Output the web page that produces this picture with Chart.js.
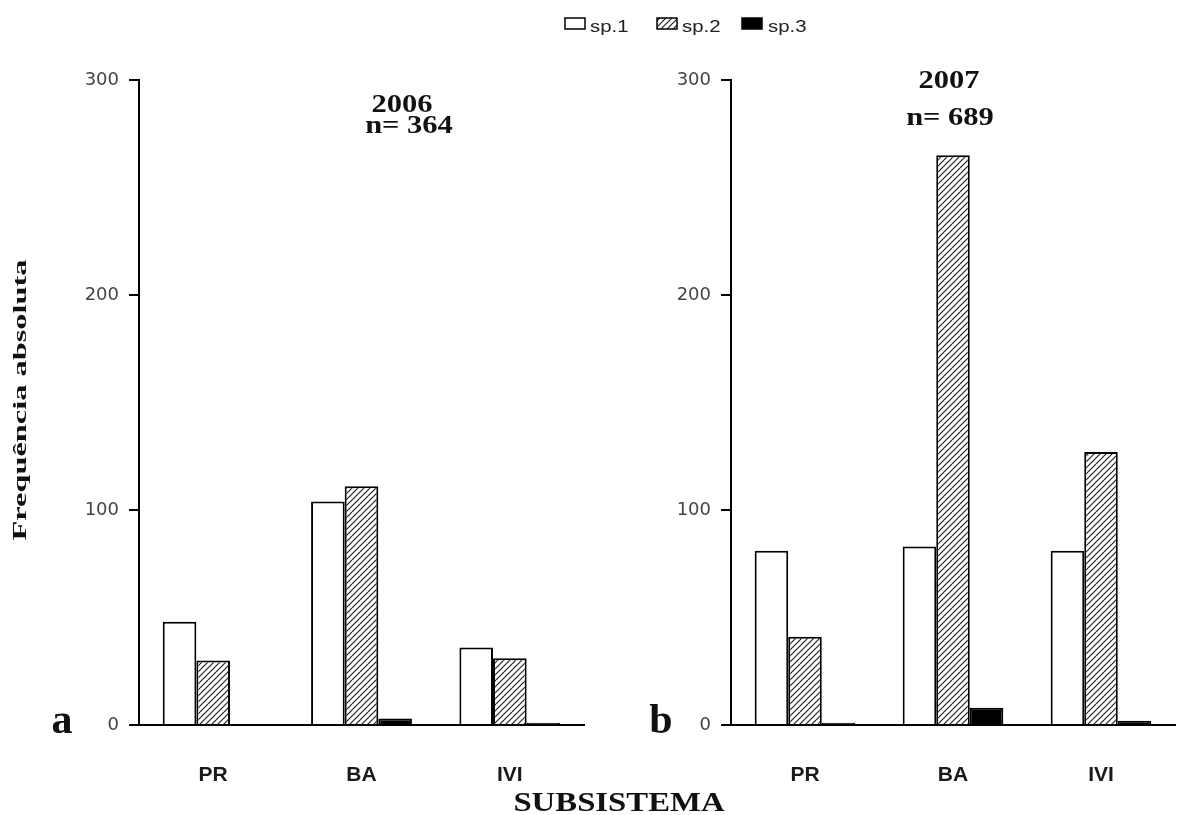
<!DOCTYPE html>
<html lang="pt">
<head>
<meta charset="utf-8">
<title>Frequência absoluta por subsistema</title>
<script src="https://cdn.jsdelivr.net/npm/chart.js@4.4.1/dist/chart.umd.min.js"></script>
<style>
  html, body { margin: 0; padding: 0; background: #fff; }
  #figura { position: relative; width: 1192px; height: 815px; }
  #figura canvas { position: absolute; left: 0; top: 0; }
</style>
</head>
<body>
<div id="figura">
  <canvas id="graf2006" width="1192" height="815"></canvas>
  <canvas id="graf2007" width="1192" height="815"></canvas>
</div>
<script>
// Subsistemas e frequência absoluta de cada espécie
const subsistemas = ['PR', 'BA', 'IVI'];
const especies = ['sp.1', 'sp.2', 'sp.3'];

const sp1_2006 = [48, 104, 36];
const sp2_2006 = [30, 111, 31];
const sp3_2006 = [0, 3, 1];

const sp1_2007 = [81, 83, 81];
const sp2_2007 = [41, 265, 127];
const sp3_2007 = [1, 8, 2];

const ticksY = [0, 100, 200, 300];

const soma = (...listas) => listas.flat().reduce((a, b) => a + b, 0);

// Padrão hachurado (////) da sp.2
function criarHachura(ctx) {
  const t = 6;
  const c = document.createElement('canvas');
  c.width = t; c.height = t;
  const g = c.getContext('2d');
  g.fillStyle = '#fff';
  g.fillRect(0, 0, t, t);
  g.strokeStyle = '#222';
  g.lineWidth = 1.2;
  g.beginPath();
  g.moveTo(-1, t + 1); g.lineTo(t + 1, -1);
  g.moveTo(-1, 1); g.lineTo(1, -1);
  g.moveTo(t - 1, t + 1); g.lineTo(t + 1, t - 1);
  g.stroke();
  return ctx.createPattern(c, 'repeat');
}

// Texto com esticamento horizontal (sx)
function texto(ctx, str, x, y, fonte, sx, alinh, cor) {
  ctx.save();
  ctx.translate(x, y);
  ctx.scale(sx, 1);
  ctx.font = fonte;
  ctx.textAlign = alinh || 'center';
  ctx.textBaseline = 'alphabetic';
  ctx.fillStyle = cor || '#111';
  ctx.fillText(str, 0, 0);
  ctx.restore();
}

const serif = "'Liberation Serif', 'Times New Roman', serif";
const sans = "'Liberation Sans', Arial, sans-serif";

const textoPainel = {
  id: 'painel',
  afterDraw(chart, args, o) {
    const ctx = chart.ctx;
    texto(ctx, o.letra, o.xLetra, 733, 'bold 42px ' + serif, 1, 'center', '#111');
    texto(ctx, o.ano, o.xAno, o.yAno, 'bold 25px ' + serif, 1.22, 'center', '#111');
    texto(ctx, 'n= ' + o.n, o.xN, o.yN, 'bold 25px ' + serif, 1.22, 'center', '#111');

    if (!o.comuns) return;

    // legenda
    const caixas = [565, 657, 742];
    const rotulos = [590, 682, 768];
    const fundos = ['#fff', o.hachura, '#000'];
    especies.forEach((sp, i) => {
      ctx.save();
      ctx.fillStyle = fundos[i];
      ctx.fillRect(caixas[i], 18, 20, 11);
      ctx.strokeStyle = '#000';
      ctx.lineWidth = 1.5;
      ctx.strokeRect(caixas[i], 18, 20, 11);
      ctx.restore();
      texto(ctx, sp, rotulos[i], 32, '17px ' + sans, 1.2, 'left', '#222');
    });

    // títulos dos eixos
    ctx.save();
    ctx.translate(26, 400);
    ctx.rotate(-Math.PI / 2);
    ctx.scale(1.8, 1);
    ctx.font = 'bold 18px ' + serif;
    ctx.textAlign = 'center';
    ctx.textBaseline = 'alphabetic';
    ctx.fillStyle = '#111';
    ctx.fillText('Frequência absoluta', 0, 0);
    ctx.restore();

    texto(ctx, 'SUBSISTEMA', 619, 811, 'bold 28px ' + serif, 1.17, 'center', '#111');
  }
};

function montarDatasets(sp1, sp2, sp3, hachura) {
  const dados = [sp1, sp2, sp3];
  const fundos = ['#fff', hachura, '#000'];
  return especies.map((sp, i) => ({
    label: sp,
    data: dados[i],
    backgroundColor: fundos[i],
    borderColor: '#000',
    borderWidth: 2
  }));
}

function opcoes(esq, dir, painel) {
  return {
    responsive: false,
    animation: false,
    layout: { padding: { left: esq, right: dir, top: 80, bottom: 0 } },
    datasets: { bar: { categoryPercentage: 0.68, barPercentage: 1 } },
    plugins: {
      legend: { display: false },
      tooltip: { enabled: false },
      painel: painel
    },
    scales: {
      x: {
        grid: { display: false, drawTicks: false },
        border: { display: true, color: '#000', width: 2 },
        ticks: {
          color: '#1a1a1a',
          padding: 38,
          font: { family: sans, size: 21, weight: 'bold' }
        },
        afterFit: s => { s.height = 90; }
      },
      y: {
        min: ticksY[0],
        max: ticksY[ticksY.length - 1],
        afterBuildTicks: s => { s.ticks = ticksY.map(v => ({ value: v })); },
        ticks: {
          padding: 10,
          color: '#444',
          font: { family: "'DejaVu Sans', sans-serif", size: 18 }
        },
        grid: { drawOnChartArea: false, drawTicks: true, tickLength: 10, color: '#000', lineWidth: 2 },
        border: { color: '#000', width: 2 },
        afterFit: s => { s.width = 139; }
      }
    }
  };
}

const ctxA = document.getElementById('graf2006').getContext('2d');
const hachuraA = criarHachura(ctxA);
new Chart(ctxA, {
  type: 'bar',
  data: { labels: subsistemas, datasets: montarDatasets(sp1_2006, sp2_2006, sp3_2006, hachuraA) },
  options: opcoes(0, 608, {
    letra: 'a', xLetra: 62,
    ano: '2006', xAno: 402, yAno: 112,
    n: soma(sp1_2006, sp2_2006, sp3_2006), xN: 409, yN: 133,
    comuns: true, hachura: hachuraA
  }),
  plugins: [textoPainel]
});

const ctxB = document.getElementById('graf2007').getContext('2d');
const hachuraB = criarHachura(ctxB);
new Chart(ctxB, {
  type: 'bar',
  data: { labels: subsistemas, datasets: montarDatasets(sp1_2007, sp2_2007, sp3_2007, hachuraB) },
  options: opcoes(592, 17, {
    letra: 'b', xLetra: 661,
    ano: '2007', xAno: 949, yAno: 88,
    n: soma(sp1_2007, sp2_2007, sp3_2007), xN: 950, yN: 125,
    comuns: false
  }),
  plugins: [textoPainel]
});
</script>
</body>
</html>
